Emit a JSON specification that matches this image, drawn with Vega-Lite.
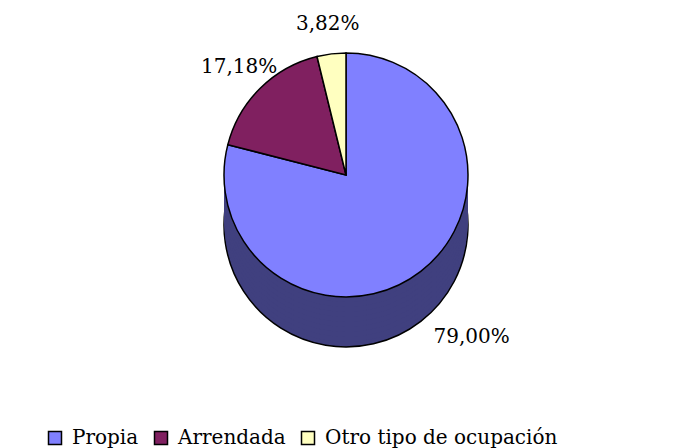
{
"$schema": "https://vega.github.io/schema/vega-lite/v6.json",
"width": 692, "height": 350,
"padding": {"left": 0, "top": 0, "right": 0, "bottom": 98},
"autosize": {"type": "none"},
"background": "white",
"config": {"view": {"stroke": null}, "locale": {"number": {"decimal": ",", "thousands": ".", "grouping": [3], "currency": ["", " €"]}}},
"data": {"values": [
 {"ocupacion": "Propia", "porcentaje": 0.79, "orden": 1},
 {"ocupacion": "Arrendada", "porcentaje": 0.1718, "orden": 2},
 {"ocupacion": "Otro tipo de ocupación", "porcentaje": 0.0382, "orden": 3}
]},
"encoding": {
 "theta": {"field": "porcentaje", "type": "quantitative", "stack": true},
 "order": {"field": "orden", "type": "quantitative"}
},
"layer": [
 {"mark": {"type": "arc", "radius": 122, "yOffset": 50, "fill": "#40407F", "stroke": "black", "strokeWidth": 1.5}},
 {"mark": {"type": "arc", "radius": 122, "yOffset": 45, "fill": "#40407F", "stroke": null}},
 {"mark": {"type": "arc", "radius": 122, "yOffset": 40, "fill": "#40407F", "stroke": null}},
 {"mark": {"type": "arc", "radius": 122, "yOffset": 35, "fill": "#40407F", "stroke": null}},
 {"mark": {"type": "arc", "radius": 122, "yOffset": 30, "fill": "#40407F", "stroke": null}},
 {"mark": {"type": "arc", "radius": 122, "yOffset": 25, "fill": "#40407F", "stroke": null}},
 {"mark": {"type": "arc", "radius": 122, "yOffset": 20, "fill": "#40407F", "stroke": null}},
 {"mark": {"type": "arc", "radius": 122, "yOffset": 15, "fill": "#40407F", "stroke": null}},
 {"mark": {"type": "arc", "radius": 122, "yOffset": 10, "fill": "#40407F", "stroke": null}},
 {"mark": {"type": "arc", "radius": 122, "yOffset": 5, "fill": "#40407F", "stroke": null}},
 {"mark": {"type": "arc", "radius": 122, "stroke": "black", "strokeWidth": 1.5, "opacity": 1},
  "encoding": {
   "color": {"field": "ocupacion", "type": "nominal",
    "sort": ["Propia", "Arrendada", "Otro tipo de ocupación"],
    "scale": {"domain": ["Propia", "Arrendada", "Otro tipo de ocupación"], "range": ["#8080FF", "#802060", "#FFFFC0"]},
    "legend": {"orient": "none", "legendX": 45, "legendY": 428, "direction": "horizontal", "title": null,
     "symbolType": "square", "symbolSize": 169, "symbolStrokeColor": "black", "symbolStrokeWidth": 1.5, "symbolOpacity": 1,
     "labelFont": "DejaVu Serif", "labelFontSize": 20, "labelColor": "black", "labelOffset": 7, "labelLimit": 500, "columnPadding": 12, "padding": 0}
   }
  }},
 {"mark": {"type": "text", "radius": 152, "font": "DejaVu Serif", "fontSize": 20, "color": "black"},
  "encoding": {
   "text": {"field": "porcentaje", "type": "quantitative", "format": ".2%"},
   "opacity": {"condition": {"test": "datum.ocupacion === 'Propia'", "value": 0}, "value": 1}}},
 {"mark": {"type": "text", "radius": 205, "font": "DejaVu Serif", "fontSize": 20, "color": "black"},
  "encoding": {
   "text": {"field": "porcentaje", "type": "quantitative", "format": ".2%"},
   "opacity": {"condition": {"test": "datum.ocupacion !== 'Propia'", "value": 0}, "value": 1}}}
]
}
